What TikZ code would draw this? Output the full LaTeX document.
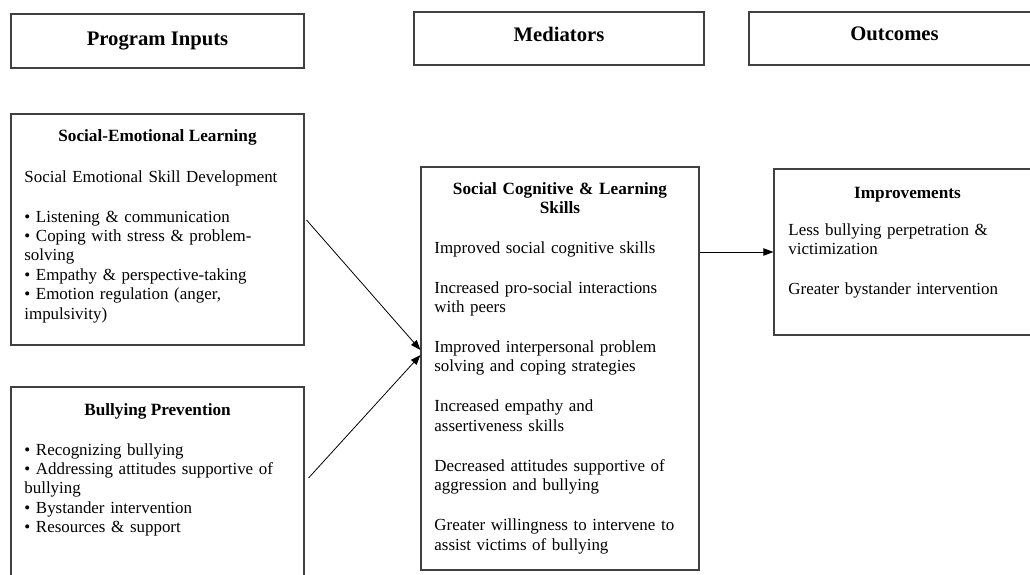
\documentclass[tikz,border=0pt]{standalone}
\usepackage{fontspec}
\setmainfont{Liberation Serif}
\usetikzlibrary{arrows.meta, calc}
\def\px{0.75pt}

\begin{document}
\begin{tikzpicture}[x=\px, y=-\px, ->, >={Triangle[length=7.5pt,width=5.5pt]},
                    line width=0.6pt]
  \tikzstyle{box}=[rectangle, draw=black!75, line width=0.8pt]
  \tikzstyle{head}=[box, font=\fontsize{15.5}{18}\selectfont\bfseries]
  \tikzstyle{title}=[inner sep=0pt, anchor=base, font=\fontsize{12.9}{14.6}\selectfont\bfseries]
  \tikzstyle{body}=[inner sep=0pt, anchor=base west, align=left, text width=280*\px,
                    font=\fontsize{12.7}{14.6}\selectfont]
  \useasboundingbox (0,0) rectangle (1030,574);
  \clip (0,0) rectangle (1030,574);
  % column headings
  \node[head, minimum width=293*\px, minimum height=54*\px] (hIn)  at (157.5,41)   {Program Inputs};
  \node[head, minimum width=290*\px, minimum height=53*\px, text depth=7pt] (hMed) at (559,38.5) {Mediators};
  \node[head, minimum width=291*\px, minimum height=53*\px, text depth=7pt] (hOut) at (894.5,38.5) {Outcomes};
  % boxes
  \node[box, minimum width=293*\px, minimum height=231*\px] (sel) at (157.5,229.5) {};
  \node[box, minimum width=293*\px, minimum height=233*\px] (bp)  at (157.5,503.5) {};
  \node[box, minimum width=278*\px, minimum height=403*\px] (med) at (560,368.5)   {};
  \node[box, minimum width=266*\px, minimum height=166*\px] (imp) at (907,252)     {};
  % program inputs
  \node[title] (selTitle) at (157.5,142) {Social-Emotional Learning};
  \node[body]  (selText)  at (24,182) {Social Emotional Skill Development\\[15.4pt]
    • Listening \& communication\\
    • Coping with stress \& problem-\\
    solving\\
    • Empathy \& perspective-taking\\
    • Emotion regulation (anger,\\
    impulsivity)};
  \node[title] (bpTitle) at (157.5,415) {Bullying Prevention};
  \node[body]  (bpText)  at (24,455) {• Recognizing bullying\\
    • Addressing attitudes supportive of\\
    bullying\\
    • Bystander intervention\\
    • Resources \& support};
  % mediators
  \node[title, align=center, text width=260*\px] (medTitle) at (560,194)
    {Social Cognitive \& Learning\\Skills};
  \node[body] (medText) at (434,253) {Improved social cognitive skills\\[15.4pt]
    Increased pro-social interactions\\
    with peers\\[15.4pt]
    Improved interpersonal problem\\
    solving and coping strategies\\[15.4pt]
    Increased empathy and\\
    assertiveness skills\\[15.4pt]
    Decreased attitudes supportive of\\
    aggression and bullying\\[15.4pt]
    Greater willingness to intervene to\\
    assist victims of bullying};
  % outcomes
  \node[title] (impTitle) at (907.5,198) {Improvements};
  \node[body]  (impText)  at (788,235) {Less bullying perpetration \&\\
    victimization\\[15.4pt]
    Greater bystander intervention};
  % arrows
  \draw ($(sel.east)+(2,-9.5)$) -- ($(med.west)+(0,-18.5)$);
  \draw ($(bp.east)+(4,-25.5)$) -- ($(med.west)+(0,-13.5)$);
  \draw (med.east |- imp.west) -- (imp.west);
\end{tikzpicture}
\end{document}
